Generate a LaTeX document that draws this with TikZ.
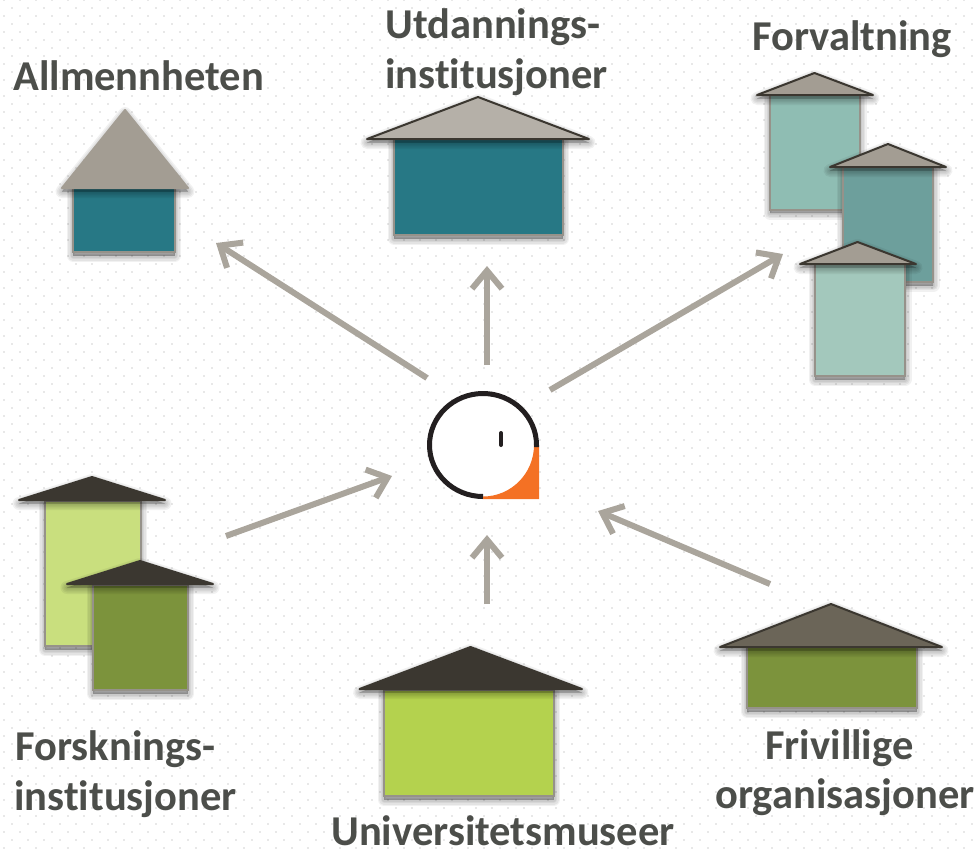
\documentclass[tikz,border=0pt]{standalone}
\usepackage{fontspec}
\setmainfont[Ligatures=CommonOff]{Carlito}
\usetikzlibrary{arrows.meta}
\definecolor{dotgray}{HTML}{E8E8E8}
\definecolor{textgray}{HTML}{4C4E4A}
\definecolor{arrowgray}{HTML}{AAA59C}
\definecolor{edgegray}{HTML}{96928A}
\definecolor{roofdark}{HTML}{3B3730}
\definecolor{roofmid}{HTML}{6B6558}
\definecolor{rooflight}{HTML}{A39D93}
\definecolor{roofpale}{HTML}{B5B0A8}
\definecolor{petrol}{HTML}{277885}
\definecolor{teala}{HTML}{8FBDB3}
\definecolor{tealb}{HTML}{6D9F9C}
\definecolor{tealc}{HTML}{A3C8BC}
\definecolor{limea}{HTML}{C9DF7E}
\definecolor{limeb}{HTML}{B4D24E}
\definecolor{moss}{HTML}{7C933C}
\definecolor{logoblack}{HTML}{231F20}
\definecolor{logoorange}{HTML}{F47124}
\tikzstyle{shadowlayer} = [draw=black, fill=black, line join=round, opacity=.055, transform canvas={yshift=-.07cm}]
\tikzstyle{softshadow} = [preaction={shadowlayer, line width=.26cm}, preaction={shadowlayer, line width=.2cm}, preaction={shadowlayer, line width=.14cm}, preaction={shadowlayer, line width=.08cm}, preaction={shadowlayer, line width=.02cm}]
\tikzstyle{body} = [rectangle, inner sep=0pt, draw=edgegray, line width=.04cm, softshadow]
\tikzstyle{roof} = [line join=round, draw=roofdark, line width=.04cm, softshadow]
\tikzstyle{caption} = [anchor=base west, inner sep=0pt, text=textgray, font=\fontsize{24.2}{29}\selectfont\bfseries]
\tikzstyle{arrow} = [line width=.12cm, arrowgray, -{Straight Barb[length=.36cm, width=.6cm]}]
\begin{document}
\begin{tikzpicture}[x=.02cm, y=-.02cm]
		\path [use as bounding box, fill=white] (0,0) rectangle (977,850);
		% dotted paper
		\foreach \rowy in {0,16,...,848}
			\draw [dotgray, line width=.03cm, dash pattern=on .03cm off .29cm] (3.25,\rowy) -- (977,\rowy);
		\foreach \rowy in {8,24,...,848}
			\draw [dotgray, line width=.03cm, dash pattern=on .03cm off .29cm] (11.25,\rowy) -- (977,\rowy);
		
		\node (pub) [body, fill=petrol, minimum width=2.04cm, minimum height=1.28cm] at (124,220) {};
		\draw [roof, fill=rooflight, draw=rooflight] (62,188) -- (125,110) -- (188,188) -- cycle;
		
		\node (edu) [body, fill=petrol, minimum width=3.38cm, minimum height=1.92cm] at (478.5,187) {};
		\draw [roof, fill=roofpale] (367,139) -- (478,97) -- (589,139) -- cycle;
		
		\node (gov1) [body, fill=teala, minimum width=1.8cm, minimum height=2.3cm] at (815,152.5) {};
		\draw [roof, fill=rooflight] (757,95) -- (814.5,73) -- (873,95) -- cycle;
		\node (gov2) [body, fill=tealb, minimum width=1.8cm, minimum height=2.3cm] at (888,224.5) {};
		\draw [roof, fill=rooflight] (830,167) -- (888,144) -- (946,167) -- cycle;
		\node (gov3) [body, fill=tealc, minimum width=1.8cm, minimum height=2.24cm] at (860,320) {};
		\draw [roof, fill=rooflight] (800,264) -- (857.5,242) -- (916,264) -- cycle;
		
		\node (res1) [body, fill=limea, minimum width=1.92cm, minimum height=2.9cm] at (93,573.5) {};
		\draw [roof, fill=roofdark] (19,500) -- (92,477) -- (165,500) -- cycle;
		\node (res2) [body, fill=moss, minimum width=1.9cm, minimum height=2.1cm] at (140.5,637.5) {};
		\draw [roof, fill=roofdark] (67,584) -- (140,561) -- (213,584) -- cycle;
		
		\node (uni) [body, fill=limeb, minimum width=3.4cm, minimum height=2.12cm] at (469,743) {};
		\draw [roof, fill=roofdark] (359.5,689) -- (470.5,647) -- (582,689) -- cycle;
		
		\node (vol) [body, fill=moss, minimum width=3.4cm, minimum height=1.22cm] at (832,677.5) {};
		\draw [roof, fill=roofmid] (720,647) -- (831,604) -- (942,647) -- cycle;
		
		\node (pubtxt) [caption] at (13,90) {Allmennheten};
		\node (edutxt1) [caption] at (385,38.5) {Utdannings-};
		\node (edutxt2) [caption] at (385,88) {institusjoner};
		\node (govtxt) [caption] at (752,50) {Forvaltning};
		\node (restxt1) [caption] at (15,760) {Forsknings-};
		\node (restxt2) [caption] at (14,810) {institusjoner};
		\node (unitxt) [caption] at (331,845) {Universitetsmuseer};
		\node (voltxt1) [caption] at (765,759) {Frivillige};
		\node (voltxt2) [caption] at (715,808.5) {organisasjoner};
		
		% logo in the middle
		\node (logo) [circle, fill=white, inner sep=0pt, minimum size=2.1cm] at (483,445) {};
		\fill [logoorange] (539,447) -- (539,499) -- (483,499) -- (483,496.5) arc [start angle=90, end angle=0, x radius=51, y radius=51.5] -- cycle;
		\draw [logoblack, line width=.1cm] (536.5,447) -- (536.5,445) arc [start angle=0, end angle=-270, x radius=53.5, y radius=51.5];
		\draw [logoblack, line width=.08cm, line cap=round] (501,433) -- (501,445);
		
		\coordinate (pubfrom) at (427,378);
		\coordinate (pubto) at (216,243);
		\coordinate (edufrom) at (487,365);
		\coordinate (eduto) at (487,266);
		\coordinate (govfrom) at (550,390);
		\coordinate (govto) at (783,254);
		\coordinate (resfrom) at (226,536);
		\coordinate (resto) at (392,476);
		\coordinate (unifrom) at (487,604);
		\coordinate (unito) at (487,535);
		\coordinate (volfrom) at (770,584);
		\coordinate (volto) at (598,511);
		
		\draw [arrow] (pubfrom) -- (pubto);
		\draw [arrow] (edufrom) -- (eduto);
		\draw [arrow] (govfrom) -- (govto);
		\draw [arrow] (resfrom) -- (resto);
		\draw [arrow] (unifrom) -- (unito);
		\draw [arrow] (volfrom) -- (volto);
\end{tikzpicture}
\end{document}
